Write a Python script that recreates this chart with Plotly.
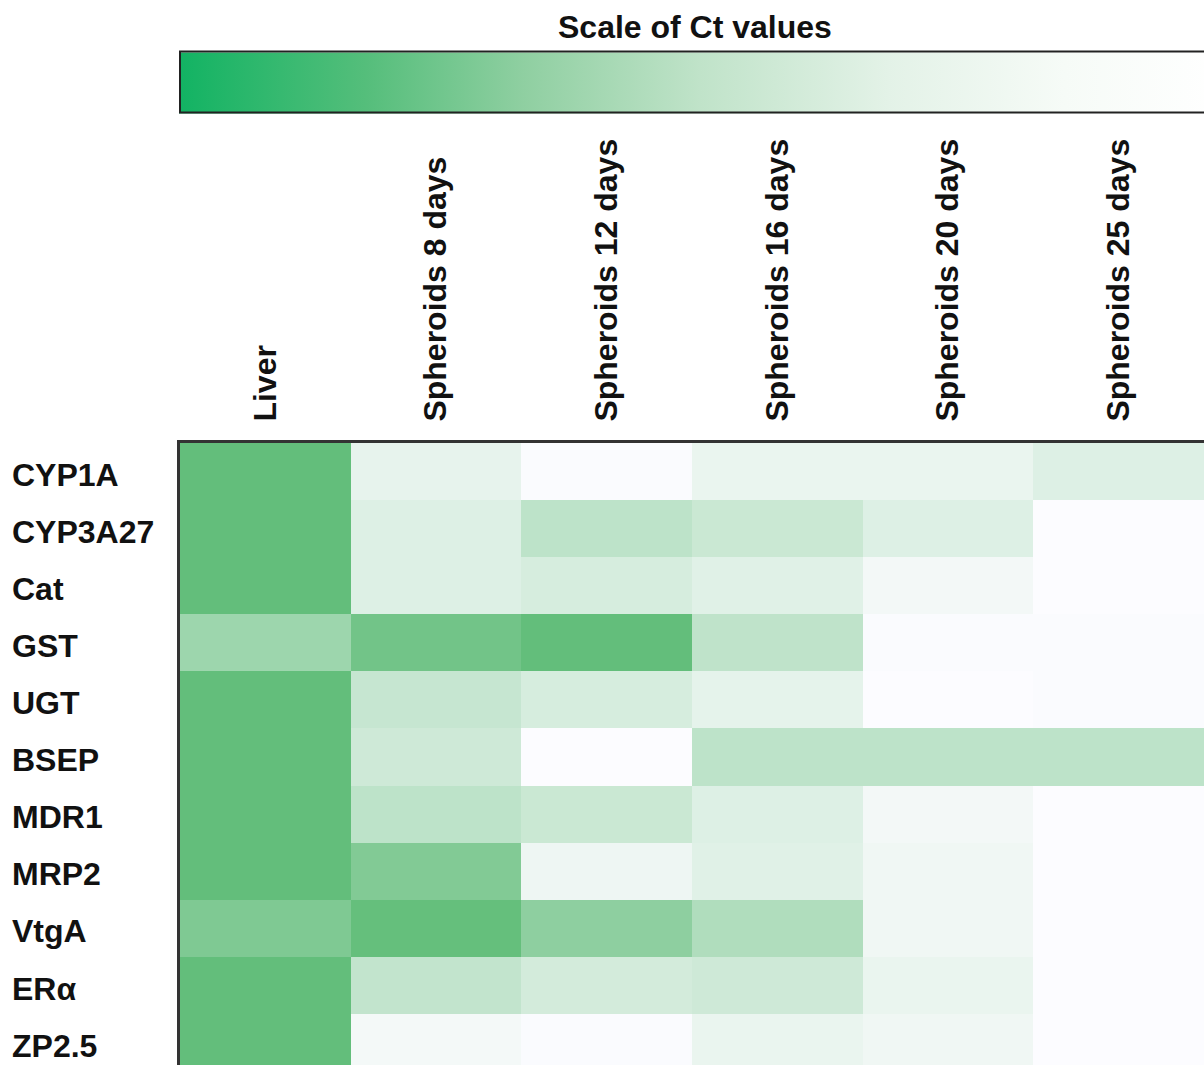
import plotly.graph_objects as go

# ---------------- data ----------------
samples = ["Liver", "Spheroids 8 days", "Spheroids 12 days",
           "Spheroids 16 days", "Spheroids 20 days", "Spheroids 25 days"]
genes = ["CYP1A", "CYP3A27", "Cat", "GST", "UGT", "BSEP",
         "MDR1", "MRP2", "VtgA", "ERα", "ZP2.5"]

# relative expression intensity (0 = low / white, 1 = high / green)
liver = [1.00, 1.00, 1.00, 0.62, 1.00, 1.00, 1.00, 1.00, 0.82, 1.00, 1.00]
sph8  = [0.14, 0.20, 0.20, 0.90, 0.35, 0.30, 0.41, 0.80, 0.99, 0.38, 0.05]
sph12 = [0.01, 0.41, 0.25, 1.00, 0.25, 0.00, 0.33, 0.09, 0.72, 0.27, 0.01]
sph16 = [0.12, 0.33, 0.18, 0.40, 0.15, 0.41, 0.20, 0.18, 0.50, 0.30, 0.12]
sph20 = [0.12, 0.20, 0.06, 0.01, 0.00, 0.41, 0.06, 0.08, 0.08, 0.12, 0.08]
sph25 = [0.20, 0.00, 0.00, 0.01, 0.01, 0.41, 0.00, 0.00, 0.00, 0.00, 0.00]

columns = [liver, sph8, sph12, sph16, sph20, sph25]
z = [[col[i] for col in columns] for i in range(len(genes))]

FONT = "Arial, Liberation Sans, sans-serif"
W, H = 1204, 1065
L, T = 180, 443
plot_w = W - L
plot_h = H - T

# colour-bar box (pixels from top-left of the page)
CB_X0, CB_X1, CB_Y0, CB_Y1 = 180, 1222, 52, 113
CB_FILL_OFFSET = 30  # plotly draws the horizontal bar fill this far left of its anchor

fig = go.Figure()

fig.add_trace(go.Heatmap(
    x=samples, y=genes, z=z,
    zmin=0, zmax=1,
    colorscale=[[0, "#FCFCFF"], [1, "#63BE7B"]],
    showscale=False,
    xgap=0, ygap=0,
    hovertemplate="%{y} – %{x}: %{z}<extra></extra>",
))

# invisible traces only to carry the "Scale of Ct values" colour bar and its outline
fig.add_trace(go.Scatter(
    x=[None, None], y=[None, None], mode="markers",
    marker=dict(color=[0, 1], coloraxis="coloraxis2"),
    showlegend=False, hoverinfo="skip",
))
fig.add_trace(go.Scatter(
    x=[None, None], y=[None, None], mode="markers",
    marker=dict(color=[0, 1], coloraxis="coloraxis3"),
    showlegend=False, hoverinfo="skip",
))

cb_common = dict(
    orientation="h",
    xref="container", yref="container",
    xanchor="left",
    y=1 - (CB_Y0 + CB_Y1) / 2 / H, yanchor="middle",
    len=CB_X1 - CB_X0, lenmode="pixels",
    thickness=CB_Y1 - CB_Y0, thicknessmode="pixels",
    xpad=0, ypad=0,
    showticklabels=False, ticks="",
)

fig.update_layout(
    width=W, height=H,
    margin=dict(l=L, r=0, t=T, b=0, pad=0),
    paper_bgcolor="white", plot_bgcolor="white",
    font=dict(family=FONT, size=32, color="#111"),
    coloraxis2=dict(
        cmin=0, cmax=1,
        colorscale=[[0, "#12b363"], [0.18, "#55be7b"], [0.33, "#8fcfa1"],
                    [0.5, "#c0e3c9"], [0.68, "#e3f2e7"], [0.85, "#f6fbf7"],
                    [1, "#ffffff"]],
        colorbar=dict(x=(CB_X0 + CB_FILL_OFFSET) / W, outlinewidth=0, **cb_common),
    ),
    coloraxis3=dict(
        cmin=0, cmax=1,
        colorscale=[[0, "rgba(0,0,0,0)"], [1, "rgba(0,0,0,0)"]],
        colorbar=dict(x=CB_X0 / W, outlinewidth=2, outlinecolor="#222",
                      bgcolor="rgba(0,0,0,0)", **cb_common),
    ),
    xaxis=dict(
        side="top", type="category",
        range=[-0.5, 5.5],
        tickangle=-90,
        tickfont=dict(family=FONT, size=32, color="#111", weight="bold"),
        ticks="outside", ticklen=12, tickcolor="rgba(0,0,0,0)",
        showline=True, linecolor="#333", linewidth=3,
        showgrid=False, zeroline=False, fixedrange=True,
    ),
    yaxis=dict(
        type="category",
        range=[10.39, -0.5],
        showticklabels=False, ticks="",
        showline=True, linecolor="#333", linewidth=3,
        showgrid=False, zeroline=False, fixedrange=True,
    ),
    showlegend=False,
)

annotations = [dict(
    text="Scale of Ct values", xref="paper", yref="paper",
    x=(695 - L) / plot_w, y=(H - 27) / plot_h,
    xanchor="center", yanchor="middle", showarrow=False,
    font=dict(family=FONT, size=32, color="#111", weight="bold"),
)]
for g in genes:
    annotations.append(dict(
        text=g, xref="paper", yref="y",
        x=(10 - L) / plot_w, y=g, yshift=-3,
        xanchor="left", yanchor="middle", showarrow=False,
        font=dict(family=FONT, size=32, color="#111", weight="bold"),
    ))
fig.update_layout(annotations=annotations)

fig.write_html(
    "out.html",
    config={"displayModeBar": False},
    post_script="document.body.style.margin='0';document.body.style.overflow='hidden';",
)
